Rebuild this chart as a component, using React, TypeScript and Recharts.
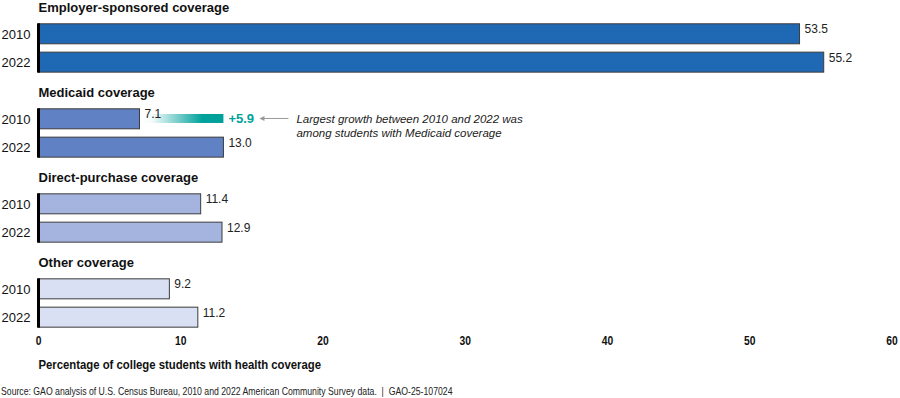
import React from 'react';
import { BarChart, Bar, XAxis, YAxis, LabelList, ReferenceArea } from 'recharts';

const categories = ['Employer-sponsored coverage', 'Medicaid coverage', 'Direct-purchase coverage', 'Other coverage'];
const years = ['2010', '2022'];
const values2010 = [53.5, 7.1, 11.4, 9.2];
const values2022 = [55.2, 13.0, 12.9, 11.2];
const barColors = ['#1f69b4', '#6081c4', '#a4b4de', '#dae0f3'];
const xTicks = [0, 10, 20, 30, 40, 50, 60];
const annotationLines = ['Largest growth between 2010 and 2022 was', 'among students with Medicaid coverage'];
const xAxisTitle = 'Percentage of college students with health coverage';
const sourceText = 'Source: GAO analysis of U.S. Census Bureau, 2010 and 2022 American Community Survey data.  |  GAO-25-107024';

type Row = { key: string; group: number; year: string | null; value: number | null };

const rows: Row[] = [];
categories.forEach((_, i) => {
  rows.push({ key: `g${i}-${years[0]}`, group: i, year: years[0], value: values2010[i] });
  rows.push({ key: `g${i}-${years[1]}`, group: i, year: years[1], value: values2022[i] });
  if (i < categories.length - 1) rows.push({ key: `g${i}-sp`, group: i, year: null, value: null });
});
const rowByKey: Record<string, Row> = {};
rows.forEach((r) => (rowByKey[r.key] = r));

const FONT = '"Liberation Sans", Arial, Helvetica, sans-serif';
const TEAL = '#00a19b';

const BarShape = (props: any) => {
  const { x, y, width, height, payload } = props;
  if (!payload || !payload.year || width == null || height == null) return null;
  const color = barColors[payload.group];
  const gap = 8.5;
  const isFirst = payload.year === years[0];
  return (
    <g>
      <rect x={x} y={y} width={width} height={height} fill={color} stroke="#3c3c3c" strokeWidth={1} />
      <rect
        x={x - 1.5}
        y={isFirst ? y - 0.5 : y - gap}
        width={3}
        height={height + gap + 0.5}
        fill="#000"
      />
    </g>
  );
};

const ValueLabel = (props: any) => {
  const { x, y, width, value } = props;
  if (value == null) return null;
  return (
    <text x={x + width + 5} y={y + 9.5} fontSize={12} fontFamily={FONT} fill="#222">
      {Number(value).toFixed(1)}
    </text>
  );
};

const YTick = (props: any) => {
  const { x, y, payload } = props;
  const row = rowByKey[payload.value];
  if (!row || !row.year) return null;
  return (
    <g>
      <text x={x} y={y} dy="0.36em" textAnchor="end" fontSize={13} fontFamily={FONT} fill="#111">
        {row.year}
      </text>
      {row.year === years[0] && (
        <text x={x + 8} y={y - 22} fontSize={13} fontWeight="bold" fontFamily={FONT} fill="#111">
          {categories[row.group]}
        </text>
      )}
    </g>
  );
};

const XTick = (props: any) => {
  const { x, y, payload } = props;
  return (
    <text
      transform={`translate(${x},${y + 13}) scale(0.86,1)`}
      textAnchor="middle"
      fontSize={12}
      fontWeight="bold"
      fontFamily={FONT}
      fill="#111"
    >
      {payload.value}
    </text>
  );
};

const XLabel = (props: any) => {
  const vb = props.viewBox || {};
  return (
    <text
      transform={`translate(${vb.x},${vb.y + 37}) scale(0.945,1)`}
      fontSize={12}
      fontWeight="bold"
      fontFamily={FONT}
      fill="#111"
    >
      {xAxisTitle}
    </text>
  );
};

const AnnotationShape = (props: any) => {
  const { x, y, width, height } = props;
  if (x == null) return null;
  const cy = y + height / 2 - 0.5;
  const end = x + width;
  const diff = (values2022[1] - values2010[1]).toFixed(1);
  return (
    <g>
      <defs>
        <linearGradient id="growthGrad" x1="0" x2="1" y1="0" y2="0">
          <stop offset="0" stopColor={TEAL} stopOpacity={0} />
          <stop offset="0.15" stopColor={TEAL} stopOpacity={0.04} />
          <stop offset="0.75" stopColor={TEAL} stopOpacity={1} />
          <stop offset="1" stopColor={TEAL} stopOpacity={1} />
        </linearGradient>
      </defs>
      <rect x={x} y={cy - 4.5} width={width} height={9} fill="url(#growthGrad)" />
      <text x={end + 5} y={cy + 5} fontSize={13} fontWeight="bold" fontFamily={FONT} fill={TEAL}>
        {`+${diff}`}
      </text>
      <line x1={end + 39} y1={cy} x2={end + 65} y2={cy} stroke="#999" strokeWidth={1} />
      <polygon points={`${end + 36},${cy} ${end + 41},${cy - 2.5} ${end + 41},${cy + 2.5}`} fill="#999" />
      {annotationLines.map((t, i) => (
        <text key={i} x={end + 73} y={cy + 4.5 + i * 14} fontSize={11.5} fontStyle="italic" fontFamily={FONT} fill="#222">
          {t}
        </text>
      ))}
    </g>
  );
};

export default function App() {
  return (
    <div style={{ position: 'absolute', left: 0, top: 0, width: 900, height: 398, background: '#fff', fontFamily: FONT }}>
      <BarChart
        width={900}
        height={398}
        data={rows}
        layout="vertical"
        margin={{ top: 19.8, right: 8, bottom: 36.5, left: 0 }}
      >
        <XAxis
          type="number"
          domain={[0, 60]}
          ticks={xTicks}
          axisLine={false}
          tickLine={false}
          tickSize={0}
          tickMargin={0}
          height={30}
          tick={<XTick />}
          label={<XLabel />}
          interval={0}
        />
        <YAxis
          type="category"
          dataKey="key"
          width={38.5}
          axisLine={false}
          tickLine={false}
          tickSize={0}
          tickMargin={8}
          interval={0}
          tick={<YTick />}
        />
        <Bar dataKey="value" barSize={20} shape={<BarShape />} isAnimationActive={false}>
          <LabelList dataKey="value" content={<ValueLabel />} />
        </Bar>
        <ReferenceArea
          x1={values2010[1]}
          x2={values2022[1]}
          y1={rows[3].key}
          y2={rows[3].key}
          shape={<AnnotationShape />}
          ifOverflow="visible"
        />
      </BarChart>
      <div
        style={{
          position: 'absolute',
          left: 1,
          top: 384,
          fontFamily: FONT,
          fontSize: 11,
          color: '#222',
          whiteSpace: 'pre',
          lineHeight: '14px',
          transform: 'scaleX(0.79)',
          transformOrigin: 'left top',
        }}
      >
        {sourceText}
      </div>
    </div>
  );
}
